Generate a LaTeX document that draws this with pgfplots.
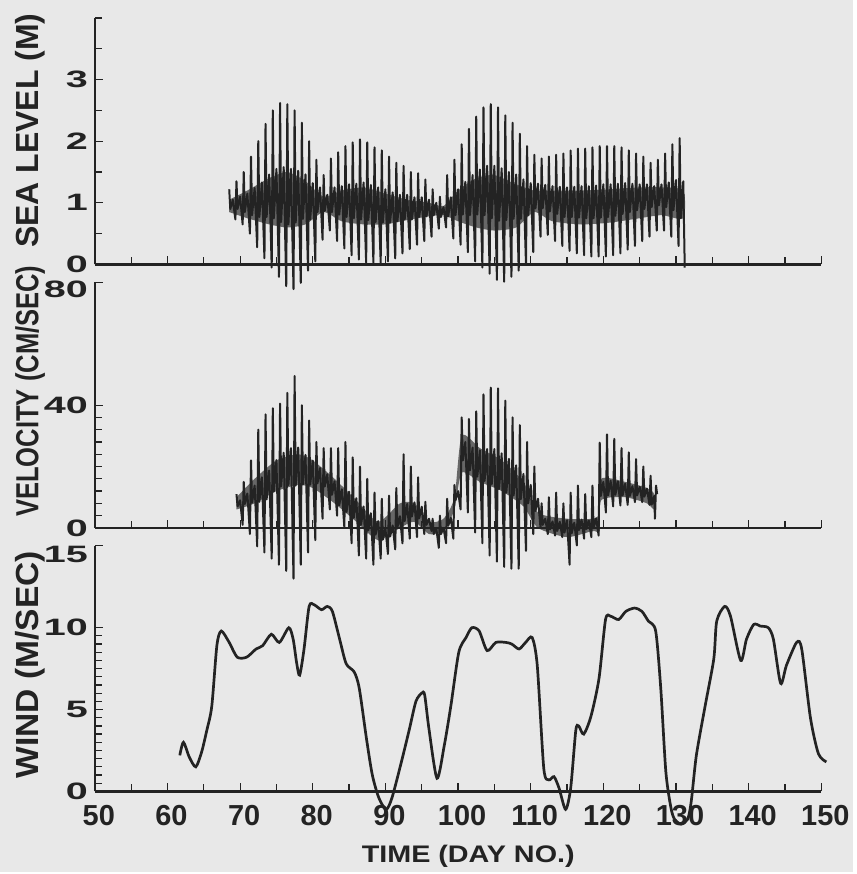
\documentclass[border=0pt]{standalone}
\usepackage{fontspec}
\setmainfont{Liberation Sans}
\usepackage{graphicx}
\usepackage{pgfplots}
\pgfplotsset{compat=1.18}

\definecolor{bg}{RGB}{232,232,232}
\definecolor{ink}{RGB}{35,35,35}

\pgfplotsset{
  panel/.style={
    scale only axis, width=364pt, height=123pt,
    xmin=50, xmax=150, enlargelimits=false, clip=false,
    axis x line=bottom, axis y line=left,
    axis line style={-, line width=1.2pt, ink},
    xtick={50,60,...,150}, minor x tick num=1,
    xticklabels={},
    tick align=inside,
    major tick length=4pt, minor tick length=3.5pt,
    every tick/.style={line width=0.6pt, ink},
    yticklabel={\scalebox{1.2}[0.72]{\pgfmathprintnumber[assume math mode=true]{\tick}}},
    yticklabel style={font=\bfseries\fontsize{16.5}{16.5}\selectfont, text=ink},
    ylabel style={font=\bfseries\fontsize{16}{16}\selectfont, text=ink, anchor=center},
  },
  tide/.style={ink, line width=1pt, line join=round},
  core/.style={fill=ink, draw=none, fill opacity=0.65, smooth, tension=0.4, forget plot},
}

\begin{document}
\begin{tikzpicture}
\fill[bg] (-47.5pt,-40.5pt) rectangle (380pt,396.5pt);

% ---- wind ----
\begin{axis}[panel, at={(0,0)}, anchor=south west,
    ymin=0, ymax=15, ytick={0,5,10}, minor y tick num=9,
    extra y ticks={15}, extra y tick labels={\scalebox{1.2}[0.72]{15}},
    extra y tick style={yticklabel style={yshift=-4.5pt}},
    xticklabels={50,60,70,80,90,100,110,120,130,140,150},
    xticklabel style={font=\bfseries\fontsize{14.5}{14.5}\selectfont, text=ink, yshift=-3.5pt, xshift=2pt},
    ylabel={\scalebox{1.05}[1]{WIND (M/SEC)}},
    ylabel style={at={(axis description cs:-0.089,0.516)}},
    xlabel={\scalebox{1.2}[1]{TIME (DAY NO.)}},
    xlabel style={at={(axis description cs:0.514,-0.264)}, anchor=center, font=\bfseries\fontsize{12}{12}\selectfont, text=ink},
]
\addplot[ink, line width=1.35pt, smooth, tension=0.45] coordinates {
(61.7,2.2)(62.2,3.0)(63.0,2.1)(63.9,1.5)(64.7,2.4)(65.4,3.7)(66.1,5.2)(66.8,8.9)
(67.4,9.8)(68.5,9.1)(69.6,8.2)(70.9,8.2)(72.2,8.7)(73.1,8.9)(74.3,9.6)(75.4,9.1)
(76.7,10.0)(77.3,9.3)(77.8,7.8)(78.2,7.1)(78.8,8.7)(79.5,11.3)(80.2,11.4)(81.2,11.1)
(82.0,11.3)(82.7,11.0)(83.7,9.3)(84.6,7.8)(85.7,7.3)(86.4,6.3)(87.4,3.2)(88.2,1.0)
(89.1,-0.4)(90.1,-1.1)(90.9,-0.4)(92.2,1.8)(93.3,3.8)(94.2,5.5)(95.0,6.0)(95.4,5.9)
(96.0,3.8)(97.1,0.8)(98.1,2.8)(99.0,5.2)(100.1,8.5)(101.1,9.4)(101.9,10.0)(102.9,9.8)
(104.0,8.6)(105.2,9.1)(106.6,9.1)(107.4,9.0)(108.4,8.7)(109.3,9.1)(110.2,9.4)(110.9,7.7)
(111.8,1.4)(112.5,0.7)(113.2,0.9)(113.9,0.2)(114.8,-1.1)(115.5,0.2)(116.2,3.7)(116.6,4.0)
(117.3,3.5)(118.3,4.6)(119.4,6.9)(120.3,10.5)(121.0,10.7)(122.1,10.5)(123.1,11.0)(124.3,11.2)
(125.3,11.0)(126.2,10.4)(127.2,9.8)(127.9,6.3)(128.6,1.2)(129.3,-1.0)(129.8,-1.7)(130.7,-2.0)
(131.6,-1.7)(132.1,-0.6)(132.8,2.2)(134.0,5.2)(135.2,8.1)(135.6,10.4)(136.7,11.3)(137.5,10.7)
(138.9,8.0)(139.7,9.3)(140.7,10.2)(141.6,10.1)(142.7,10.0)(143.4,9.3)(144.4,6.6)(145.2,7.7)
(146.6,9.1)(147.3,8.7)(148.5,4.5)(149.6,2.3)(150.7,1.8)
};
\end{axis}

% ---- velocity ----
\begin{axis}[panel, at={(0,132pt)}, anchor=south west,
    ymin=0, ymax=80, ytick={0,40}, minor y tick num=9,
    extra y ticks={80}, extra y tick labels={\scalebox{1.2}[0.72]{80}},
    extra y tick style={yticklabel style={yshift=-3.5pt}},
    ylabel={\scalebox{0.8}[1]{VELOCITY (CM/SEC)}},
    ylabel style={at={(axis description cs:-0.089,0.557)}},
]
% dense core of the record
\addplot[core] coordinates {
(69.5,10)(72,16)(75,22)(78,24)(80,22)(83,16)(86,9)(89,2)(92,8)(94,8)(96,2)(98,3)
(99.5,10)(100.5,30)(103,26)(106,22)(109,15)(111,5)(115,3)(118.5,3)(119.5,5)(119.7,16)
(123,15)(126,13)(127,11)
(127,6)(126,8)(123,10)(119.7,9)(119.5,-1)(118.5,-1)(115,-3)(111,0)(109,7)(106,12)
(103,15)(100.5,18)(99.5,6)(98,-1)(96,-2)(94,2)(92,0)(89,-4)(86,2)(83,8)(80,13)(78,14)
(75,12)(72,8)(69.5,6)
};
\addplot[tide] coordinates {
(69.5,11)(69.65,7)(70,9)(70.35,1)
(70.5,15)(70.65,7.8)(71,11.2)(71.35,-2)
(71.5,22)(71.65,8.2)(72,13.8)(72.35,-6)
(72.5,32)(72.65,8.5)(73,16.5)(73.35,-8)
(73.5,37)(73.65,9.3)(74,18.7)(74.35,-10)
(74.5,39)(74.65,11.9)(75,22.1)(75.35,-12)
(75.5,40.5)(75.65,13.5)(76,24.5)(76.35,-14)
(76.5,44)(76.65,14)(77,26)(77.35,-16.5)
(77.5,49.5)(77.65,13.8)(78,26.2)(78.35,-12)
(78.5,40)(78.65,14.2)(79,23.8)(79.35,-8)
(79.5,35)(79.65,14.1)(80,21.9)(80.35,-4)
(80.5,28)(80.65,14.5)(81,19.5)(81.35,3)
(81.5,26)(81.65,13.5)(82,17.5)(82.35,6)
(82.5,26)(82.65,10.8)(83,15.2)(83.35,4)
(83.5,26)(83.65,7.4)(84,12.6)(84.35,0)
(84.5,28)(84.65,5.2)(85,11.8)(85.35,-5)
(85.5,23)(85.65,3.3)(86,9.7)(86.35,-9)
(86.5,20)(86.65,1)(87,7)(87.35,-10)
(87.5,16)(87.65,-0.8)(88,4.8)(88.35,-12)
(88.5,11.5)(88.65,-2.2)(89,2.2)(89.35,-10)
(89.5,9.5)(89.65,-3.8)(90,-0.2)(90.35,-8.5)
(90.5,10.5)(90.65,-2.8)(91,0.8)(91.35,-7)
(91.5,13)(91.65,0.2)(92,3.8)(92.35,-5)
(92.5,24)(92.65,2.2)(93,7.8)(93.35,-3.5)
(93.5,20)(93.65,3.7)(94,8.3)(94.35,-3)
(94.5,16.5)(94.65,3.1)(95,6.9)(95.35,-2)
(95.5,8.5)(95.65,1)(96,3)(96.35,-1)
(96.5,3)(96.65,-2)(97,0)(97.35,-6.5)
(97.5,4)(97.65,-2)(98,0)(98.35,-5)
(98.5,9.5)(98.65,0.7)(99,3.3)(99.35,-3.5)
(99.5,14)(99.65,9)(100,12)(100.35,6)
(100.5,36)(100.65,22)(101,28)(101.35,5)
(101.5,35.5)(101.65,18.8)(102,26.2)(102.35,-1.5)
(102.5,38)(102.65,16.7)(103,25.3)(103.35,-5)
(103.5,43.5)(103.65,15.3)(104,25.7)(104.35,-9)
(104.5,45.7)(104.65,14.3)(105,25.7)(105.35,-11)
(105.5,45.5)(105.65,12.7)(106,24.3)(106.35,-12.7)
(106.5,41.5)(106.65,11.5)(107,22.5)(107.35,-13.3)
(107.5,36)(107.65,10.6)(108,20.4)(108.35,-13.3)
(108.5,33.5)(108.65,9.4)(109,17.6)(109.35,-7.5)
(109.5,28)(109.65,8)(110,14)(110.35,-2)
(110.5,20)(110.65,5.5)(111,9.5)(111.35,0)
(111.5,8)(111.65,1)(112,3)(112.35,-2)
(112.5,10)(112.65,-0.5)(113,2.1)(113.35,-2.5)
(113.5,11.5)(113.65,-1)(114,2)(114.35,-3)
(114.5,8)(114.65,-1.5)(115,2.5)(115.35,-12)
(115.5,11.5)(115.65,-1.7)(116,1.7)(116.35,-5.7)
(116.5,13.8)(116.65,-0.7)(117,2.7)(117.35,-3.5)
(117.5,11)(117.65,-0.4)(118,2.4)(118.35,-3)
(118.5,13.8)(118.65,-0.1)(119,3.1)(119.35,-2.5)
(119.5,27.8)(119.65,10.4)(120,15)(120.35,5)
(120.5,30.5)(120.65,10.6)(121,15.4)(121.35,7)
(121.5,29)(121.65,10.8)(122,15.2)(122.35,7.3)
(122.5,26)(122.65,10.6)(123,14.4)(123.35,7.5)
(123.5,24.6)(123.65,10.4)(124,13.6)(124.35,8.4)
(124.5,22.4)(124.65,10.6)(125,13.4)(125.35,8.4)
(125.5,20)(125.65,10.2)(126,12.8)(126.35,7.5)
(126.5,17)(126.65,7.6)(127,10.4)(127.1,3)
(127.25,13.8)(127.4,11)
};
\end{axis}

% ---- sea level ----
\begin{axis}[panel, at={(0,264pt)}, anchor=south west, height=123.5pt,
    ymin=0, ymax=4, ytick={0,1,2,3}, minor ytick={0.5,1.5,2.5,3.5,4},
    ylabel={SEA LEVEL (M)},
    ylabel style={at={(axis description cs:-0.089,0.543)}},
]
% dense core of the record
\addplot[core] coordinates {
(68.5,1.05)(71,1.2)(74,1.4)(76.5,1.5)(79,1.35)(81.5,1.1)(84,1.2)(87,1.25)(90,1.15)
(93,1.05)(96,1.0)(98,0.95)(100,1.2)(102.5,1.4)(105,1.45)(108,1.3)(110.5,1.2)(113,1.2)
(117,1.2)(121,1.22)(125,1.25)(128,1.25)(131,1.2)
(131,0.75)(128,0.8)(125,0.75)(121,0.68)(117,0.65)(113,0.7)(110.5,0.85)(108,0.6)
(105,0.55)(102.5,0.6)(100,0.7)(98,0.8)(96,0.78)(93,0.72)(90,0.65)(87,0.65)(84,0.7)
(81.5,0.85)(79,0.65)(76.5,0.6)(74,0.65)(71,0.75)(68.5,0.85)
};
\addplot[tide] coordinates {
(68.5,1.22)(68.65,0.90)(69,1.05)(69.35,0.73)
(69.5,1.35)(69.65,0.90)(70,1.10)(70.35,0.65)
(70.5,1.50)(70.65,0.85)(71,1.15)(71.35,0.50)
(71.5,1.75)(71.65,0.80)(72,1.24)(72.35,0.28)
(72.5,2.00)(72.65,0.77)(73,1.33)(73.35,0.10)
(73.5,2.28)(73.65,0.77)(74,1.46)(74.35,-0.05)
(74.5,2.50)(74.65,0.75)(75,1.55)(75.35,-0.20)
(75.5,2.62)(75.65,0.69)(76,1.58)(76.35,-0.35)
(76.5,2.60)(76.65,0.65)(77,1.55)(77.35,-0.40)
(77.5,2.50)(77.65,0.68)(78,1.52)(78.35,-0.30)
(78.5,2.30)(78.65,0.74)(79,1.46)(79.35,-0.10)
(79.5,2.00)(79.65,0.73)(80,1.32)(80.35,0.05)
(80.5,1.70)(80.65,0.85)(81,1.25)(81.35,0.40)
(81.5,1.45)(81.65,0.87)(82,1.13)(82.35,0.55)
(82.5,1.72)(82.65,0.85)(83,1.25)(83.35,0.38)
(83.5,1.82)(83.65,0.81)(84,1.27)(84.35,0.26)
(84.5,1.92)(84.65,0.77)(85,1.30)(85.35,0.15)
(85.5,1.98)(85.65,0.75)(86,1.31)(86.35,0.08)
(86.5,2.03)(86.65,0.73)(87,1.33)(87.35,0.03)
(87.5,1.98)(87.65,0.72)(88,1.29)(88.35,0.03)
(88.5,1.90)(88.65,0.69)(89,1.25)(89.35,0.03)
(89.5,1.85)(89.65,0.68)(90,1.22)(90.35,0.05)
(90.5,1.75)(90.65,0.68)(91,1.17)(91.35,0.10)
(91.5,1.65)(91.65,0.70)(92,1.13)(92.35,0.18)
(92.5,1.60)(92.65,0.73)(93,1.13)(93.35,0.25)
(93.5,1.50)(93.65,0.73)(94,1.09)(94.35,0.32)
(94.5,1.48)(94.65,0.77)(95,1.09)(95.35,0.38)
(95.5,1.38)(95.65,0.78)(96,1.05)(96.35,0.45)
(96.5,1.22)(96.65,0.80)(97,1.00)(97.35,0.58)
(97.5,1.10)(97.65,0.77)(98,0.93)(98.35,0.60)
(98.5,1.45)(98.65,0.78)(99,1.09)(99.35,0.42)
(99.5,1.70)(99.65,0.80)(100,1.22)(100.35,0.32)
(100.5,1.95)(100.65,0.81)(101,1.34)(101.35,0.20)
(101.5,2.20)(101.65,0.80)(102,1.45)(102.35,0.05)
(102.5,2.40)(102.65,0.81)(103,1.54)(103.35,-0.05)
(103.5,2.55)(103.65,0.80)(104,1.60)(104.35,-0.15)
(104.5,2.60)(104.65,0.75)(105,1.60)(105.35,-0.25)
(105.5,2.55)(105.65,0.71)(106,1.56)(106.35,-0.28)
(106.5,2.42)(106.65,0.72)(107,1.50)(107.35,-0.20)
(107.5,2.30)(107.65,0.74)(108,1.46)(108.35,-0.10)
(108.5,2.12)(108.65,0.74)(109,1.38)(109.35,0.00)
(109.5,1.92)(109.65,0.80)(110,1.32)(110.35,0.20)
(110.5,1.78)(110.65,0.91)(111,1.31)(111.35,0.45)
(111.5,1.72)(111.65,0.91)(112,1.29)(112.35,0.48)
(112.5,1.75)(112.65,0.86)(113,1.27)(113.35,0.38)
(113.5,1.78)(113.65,0.82)(114,1.26)(114.35,0.30)
(114.5,1.80)(114.65,0.77)(115,1.25)(115.35,0.22)
(115.5,1.85)(115.65,0.77)(116,1.26)(116.35,0.18)
(116.5,1.88)(116.65,0.76)(117,1.27)(117.35,0.15)
(117.5,1.88)(117.65,0.75)(118,1.27)(118.35,0.13)
(118.5,1.90)(118.65,0.75)(119,1.28)(119.35,0.13)
(119.5,1.92)(119.65,0.76)(120,1.30)(120.35,0.13)
(120.5,1.92)(120.65,0.77)(121,1.30)(121.35,0.15)
(121.5,1.92)(121.65,0.79)(122,1.31)(122.35,0.18)
(122.5,1.90)(122.65,0.82)(123,1.32)(123.35,0.24)
(123.5,1.85)(123.65,0.85)(124,1.31)(124.35,0.30)
(124.5,1.80)(124.65,0.88)(125,1.30)(125.35,0.38)
(125.5,1.75)(125.65,0.90)(126,1.30)(126.35,0.45)
(126.5,1.65)(126.65,0.93)(127,1.27)(127.35,0.55)
(127.5,1.70)(127.65,0.96)(128,1.30)(128.35,0.55)
(128.5,1.80)(128.65,0.93)(129,1.33)(129.35,0.45)
(129.5,1.95)(129.65,0.88)(130,1.37)(130.35,0.30)
(130.5,2.05)(130.65,0.75)(131,1.35)(131.2,-0.05)
};
\end{axis}
\end{tikzpicture}
\end{document}
